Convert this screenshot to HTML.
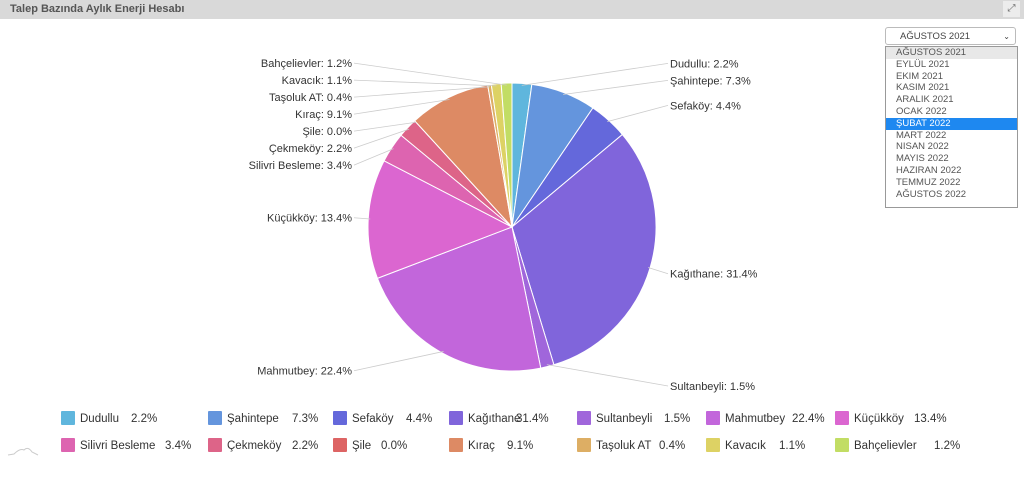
<!DOCTYPE html>
<html><head><meta charset="utf-8">
<style>
body{margin:0;width:1024px;height:496px;background:#fff;font-family:"Liberation Sans","DejaVu Sans",sans-serif;overflow:hidden;position:relative}
#hdr{position:absolute;left:0;top:0;width:1024px;height:19px;background:#d9d9d9}
#title{position:absolute;left:10px;top:3px;font-size:11px;font-weight:bold;color:#555}
#expand{position:absolute;left:1003px;top:1px;width:17px;height:16px;background:#ececec;font-size:10px;color:#666;text-align:center;line-height:16px}
#sel{position:absolute;left:885px;top:27px;width:131px;height:18px;border:1px solid #bbb;border-radius:3px;font-size:9.5px;color:#444;line-height:18px;padding-left:14px;box-sizing:border-box;background:#fff}
#list{position:absolute;left:885px;top:46px;width:133px;height:162px;border:1px solid #999;box-sizing:border-box;background:#fff;font-size:9.5px;color:#555}
#list div{height:11.8px;line-height:11.8px;padding-left:10px}
svg{position:absolute;left:0;top:0}
</style></head><body>
<div id="hdr"><div id="title">Talep Bazında Aylık Enerji Hesabı</div><div id="expand">⤢</div></div>
<div id="sel">AĞUSTOS 2021<span style="position:absolute;right:5px;top:0;font-size:8px">⌄</span></div>
<div id="list">
<div style="background:#e8e8e8">AĞUSTOS 2021</div>
<div>EYLÜL 2021</div>
<div>EKIM 2021</div>
<div>KASIM 2021</div>
<div>ARALIK 2021</div>
<div>OCAK 2022</div>
<div style="background:#1e88f0;color:#fff">ŞUBAT 2022</div>
<div>MART 2022</div>
<div>NISAN 2022</div>
<div>MAYIS 2022</div>
<div>HAZIRAN 2022</div>
<div>TEMMUZ 2022</div>
<div>AĞUSTOS 2022</div>
</div>
<svg id="chart" width="1024" height="496" style="z-index:-1">
<path d="M8 455 L14 454 Q20 448 24 450 Q28 446 32 452 L38 455" fill="none" stroke="#ccc" stroke-width="1"/>
</svg>
<script>
const categories=["Dudullu","Şahintepe","Sefaköy","Kağıthane","Sultanbeyli","Mahmutbey","Küçükköy","Silivri Besleme","Çekmeköy","Şile","Kıraç","Taşoluk AT","Kavacık","Bahçelievler"];
const values=[2.2,7.3,4.4,31.4,1.5,22.4,13.4,3.4,2.2,0.0,9.1,0.4,1.1,1.2];
const colors=["#5fb6dd","#6495dd","#6468db","#8065db","#a066db","#c266db","#db66d0","#dd64b0","#dd6488","#dd6464","#dd8a64","#ddae64","#ddd264","#c2dd64"];
const legendPos=[[61,418,131],[208,418,292],[333,418,406],[449,418,516],[577,418,664],[706,418,792],[835,418,914],[61,445,165],[208,445,292],[333,445,381],[449,445,507],[577,445,659],[706,445,779],[835,445,934]];
const svg=document.getElementById('chart');const NS='http://www.w3.org/2000/svg';
const cx=512,cy=227,R=144;
const total=values.reduce((a,b)=>a+b,0);
function mk(t,a){const e=document.createElementNS(NS,t);for(const k in a)e.setAttribute(k,a[k]);svg.appendChild(e);return e;}
function pt(a,r){return [cx+r*Math.sin(a),cy-r*Math.cos(a)];}
let acc=0;const labels=[];
values.forEach((v,i)=>{
  const a0=acc/total*2*Math.PI;acc+=v;const a1=acc/total*2*Math.PI;
  const p0=pt(a0,R),p1=pt(a1,R);
  const large=(a1-a0)>Math.PI?1:0;
  const s=mk('path',{d:`M${cx},${cy} L${p0[0]},${p0[1]} A${R},${R} 0 ${large} 1 ${p1[0]},${p1[1]} Z`,fill:colors[i],stroke:'#fff','stroke-width':1});
  
  
  const m=(a0+a1)/2;
  labels.push({i,m,right:Math.sin(m)>=0||m<0.01,y:cy-(R+20)*Math.cos(m)});
});
function spread(arr,down){
  arr.sort((a,b)=>a.y-b.y);
  for(let k=1;k<arr.length;k++) if(arr[k].y-arr[k-1].y<17) arr[k].y=arr[k-1].y+17;
}
const rightL=labels.filter(l=>l.right),leftL=labels.filter(l=>!l.right);
spread(rightL);spread(leftL);
labels.forEach(l=>{
  const e=pt(l.m,R-2);
  const lx=l.right?668:354;
  const ln=mk('line',{x1:e[0],y1:e[1],x2:lx,y2:l.y,stroke:'#ccc','stroke-width':0.8});
  
  
  const t=mk('text',{x:l.right?lx+2:lx-2,y:l.y+4,'font-size':11,fill:'#333','text-anchor':l.right?'start':'end'});
  t.textContent=categories[l.i]+': '+values[l.i].toFixed(1)+'%';
  
  
});
categories.forEach((c,i)=>{
  const [x,y,vx]=legendPos[i];
  const r=mk('rect',{x:x,y:y-7,width:14,height:14,fill:colors[i],rx:1});
  
  
  const t=mk('text',{x:x+19,y:y+4,'font-size':11.5,fill:'#333'});
  t.textContent=c;
  
  
  const tv=mk('text',{x:vx,y:y+4,'font-size':11.5,fill:'#333'});
  tv.textContent=values[i].toFixed(1)+'%';
  
  
});
</script>
</body></html>
